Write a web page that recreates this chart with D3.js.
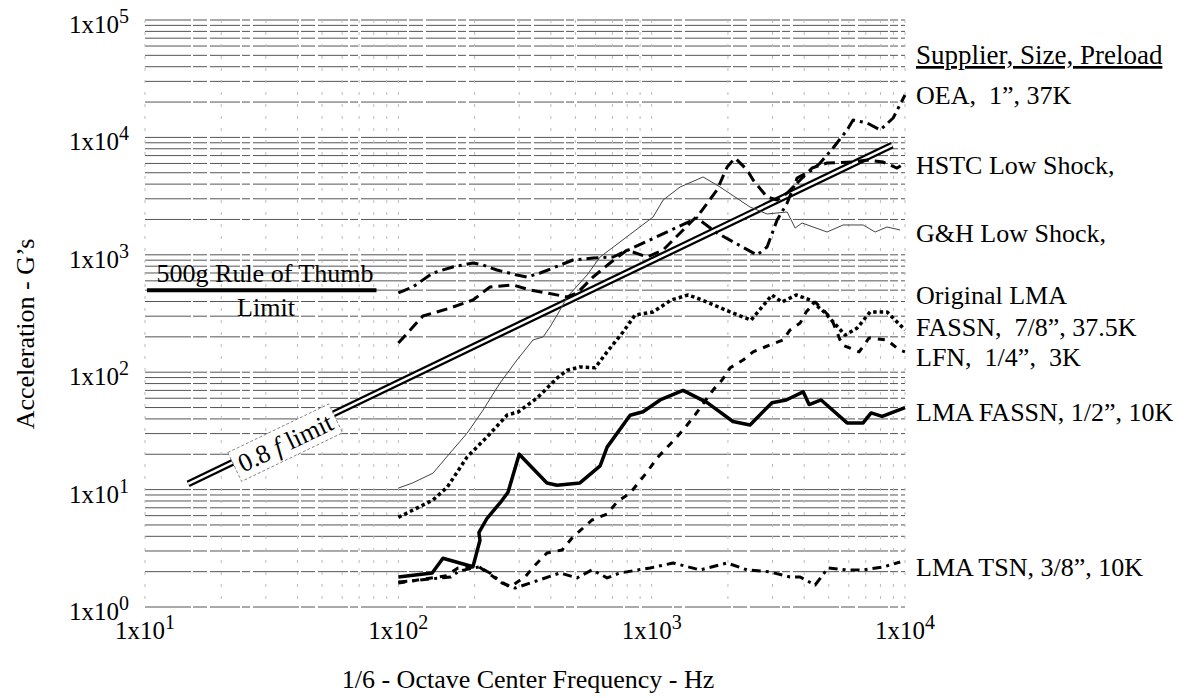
<!DOCTYPE html>
<html>
<head>
<meta charset="utf-8">
<script src="https://cdn.jsdelivr.net/npm/d3@7"></script>
<style>
	body { margin: 0; background: #fff; }
	svg text { font-family: "Liberation Serif", "Times New Roman", serif; fill: #000; }
</style>
</head>
<body>
<svg id="chart" width="1193" height="698"></svg>
<script>
// axis ticks (log decades)
const xTicks = [10, 100, 1000, 10000];
const xTickExp = ['1', '2', '3', '4'];
const yTicks = [1, 10, 100, 1000, 10000, 100000];
const yTickExp = ['0', '1', '2', '3', '4', '5'];

// series: [frequency Hz, acceleration G]
const oea = [[100,473],[114,532],[137,700],[164,787],[197,851],[216,819],[245,742],[294,673],[322,647],[363,700],[408,772],[489,903],[587,939],[705,958],[1510,2057],[1811,1534],[2606,996],[2855,1165],[3127,1978],[3427,2761],[3750,4510],[4298,5275],[4624,6050],[5202,8128],[5907,11560],[6237,14060],[7085,13270],[7980,11560],[8980,14630],[10000,22960]];
const hstc = [[100,177],[125,301],[160,352],[197,412],[230,532],[284,553],[331,501],[386,473],[464,437],[508,473],[587,647],[685,851],[800,1099],[959,958],[1110,1099],[1295,1534],[1552,2270],[1811,3565],[1986,5596],[2134,6677],[2382,5275],[2514,4335],[2855,3107],[3127,2929],[3427,3360],[3855,4335],[4298,5483],[4924,6050],[6237,6170],[7085,6418],[8202,6170],[9303,5483],[10000,6050]];
const ghLow = [[100,10.3],[114,11.4],[137,13.8],[160,20.5],[187,30.3],[216,47.6],[252,80.9],[294,127],[340,188],[373,200],[397,243],[435,339],[464,437],[556,673],[626,958],[1013,2099],[1110,2929],[1295,3782],[1596,4601],[1862,3782],[2445,2553],[2855,2227],[3427,2316],[3685,1691],[3924,1866],[4339,1725],[4924,1564],[5697,1795],[6834,1795],[7621,1564],[8494,1725],[9570,1626]];
const fassnOrig = [[100,5.8],[137,8.15],[156,10.5],[187,19],[224,28.1],[269,43.2],[297,45.8],[353,60.3],[424,89.3],[464,104],[521,111],[598,109],[667,149],[771,220],[860,307],[1013,326],[1194,412],[1393,455],[1582,412],[2040,326],[2468,278],[2985,455],[3270,396],[3717,455],[4220,412],[4795,326],[5806,207],[6475,238],[7285,326],[8494,326],[9303,268],[10000,229]];
const lfn = [[100,1.6],[155,1.85],[172,2.15],[208,2.2],[241,1.77],[276,1.48],[316,1.8],[347,2.28],[386,2.88],[443,3.06],[485,3.87],[536,4.71],[582,5.51],[667,6.2],[730,7.84],[822,9.35],[959,14.1],[1050,18.6],[1259,28.1],[1380,35.5],[1483,43.2],[1747,70.5],[1896,85.8],[2040,109],[2296,127],[2514,149],[2933,171],[3301,188],[3517,229],[3855,262],[4070,326],[4418,396],[5110,290],[5646,171],[6590,149],[7213,196],[8494,188],[9475,155],[10000,149]];
const lmaFassnHalf = [[100,1.8],[136,1.95],[150,2.6],[197,2.2],[210,3.7],[208,4.3],[224,5.7],[252,7.7],[271,9.5],[300,20],[386,11.4],[423,10.9],[521,11.4],[626,15.9],[667,23],[822,43],[925,46],[1080,58],[1330,70],[1656,55],[2094,38],[2445,35.5],[2985,55],[3396,58],[3963,68],[4183,53],[4666,58],[5907,37],[6834,37],[7349,45],[8124,42],[10000,50]];
const lmaTsn = [[100,1.63],[161,1.8],[174,2.03],[208,2.19],[230,1.95],[257,1.6],[289,1.45],[340,1.63],[435,1.95],[508,1.77],[582,2.07],[667,1.77],[750,1.95],[986,2.15],[1215,2.37],[1552,2.07],[1986,2.37],[2382,2.07],[2931,1.99],[3516,1.8],[3855,1.8],[4418,1.54],[4970,2.15],[5902,2.07],[6834,2.07],[8202,2.19],[9570,2.42]];

// 0.8 f limit line and 500 g rule of thumb
const limitLine = [[14.8,11.2],[8900,8600]];
const ruleLine = [[10,500],[82,500]];

const legendHeader = 'Supplier, Size, Preload';
const legendLabels = ['OEA,  1\u201D, 37K', 'HSTC Low Shock,', 'G&H Low Shock,', 'Original LMA', 'FASSN,  7/8\u201D, 37.5K', 'LFN,  1/4\u201D,  3K', 'LMA FASSN, 1/2\u201D, 10K', 'LMA TSN, 3/8\u201D, 10K'];

const svg = d3.select('#chart');
const x = d3.scaleLog().domain([10, 10000]).range([145, 905]);
const y = d3.scaleLog().domain([1, 100000]).range([607, 20]);

// --- grid ---
const grid = svg.append('g');
const hVals = [];
for (let e = 0; e < 5; e++) for (let m = 1; m < 10; m++) hVals.push(m * Math.pow(10, e));
hVals.push(100000);
grid.selectAll('line.h').data(hVals).enter().append('line')
	.attr('x1', x(10)).attr('x2', x(10000))
	.attr('y1', d => y(d)).attr('y2', d => y(d))
	.attr('stroke', '#555').attr('stroke-width', 1)
	.attr('stroke-dasharray', '46,2,14,3,30,2,8,3');

const vVals = [];
for (let e = 1; e < 4; e++) for (let m = 1; m < 10; m++) vVals.push(m * Math.pow(10, e));
vVals.push(10000);
grid.selectAll('line.v').data(vVals).enter().append('line')
	.attr('x1', d => x(d)).attr('x2', d => x(d))
	.attr('y1', y(100000)).attr('y2', y(1))
	.attr('stroke', '#bbb').attr('stroke-width', 1)
	.attr('stroke-dasharray', '3,9');

// --- tick labels ---
const xl = svg.append('g').selectAll('text').data(xTicks).enter().append('text')
	.attr('x', d => x(d)).attr('y', 639)
	.attr('text-anchor', 'middle').attr('font-size', 25)
	.text('1x10');
xl.append('tspan').attr('dy', -10).attr('font-size', 20).text((d, i) => xTickExp[i]);

const yl = svg.append('g').selectAll('text').data(yTicks).enter().append('text')
	.attr('x', 129).attr('y', d => y(d) + 13)
	.attr('text-anchor', 'end').attr('font-size', 25)
	.text('1x10');
yl.append('tspan').attr('dy', -10).attr('font-size', 20).text((d, i) => yTickExp[i]);

svg.append('text').attr('x', 528).attr('y', 688).attr('text-anchor', 'middle').attr('font-size', 26)
	.text('1/6 - Octave Center Frequency - Hz');
svg.append('text').attr('transform', 'translate(34,334) rotate(-90)').attr('text-anchor', 'middle').attr('font-size', 26)
	.text('Acceleration - G\u2019s');

// --- 500g rule of thumb ---
const ruleY = y(ruleLine[0][1]);
svg.append('line')
	.attr('x1', x(ruleLine[0][0]) + 2).attr('x2', x(ruleLine[1][0]))
	.attr('y1', ruleY).attr('y2', ruleY)
	.attr('stroke', '#000').attr('stroke-width', 4);
svg.append('text').attr('x', 265).attr('y', ruleY - 8).attr('text-anchor', 'middle').attr('font-size', 26)
	.text('500g Rule of Thumb');
svg.append('text').attr('x', 266).attr('y', ruleY + 26).attr('text-anchor', 'middle').attr('font-size', 26)
	.text('Limit');

// --- 0.8 f limit (double line) ---
const line = d3.line().x(d => x(d[0])).y(d => y(d[1]));
svg.append('path').attr('d', line(limitLine)).attr('fill', 'none').attr('stroke', '#000').attr('stroke-width', 7);
svg.append('path').attr('d', line(limitLine)).attr('fill', 'none').attr('stroke', '#fff').attr('stroke-width', 2.5);

const p0 = [x(limitLine[0][0]), y(limitLine[0][1])];
const p1 = [x(limitLine[1][0]), y(limitLine[1][1])];
const ang = Math.atan2(p1[1] - p0[1], p1[0] - p0[0]);
const t = (283 - p0[0]) / (p1[0] - p0[0]);
const cx = p0[0] + t * (p1[0] - p0[0]) - 5 * Math.sin(ang);
const cy = p0[1] + t * (p1[1] - p0[1]) + 5 * Math.cos(ang);
const lab = svg.append('g').attr('transform', `translate(${cx},${cy}) rotate(${ang * 180 / Math.PI})`);
lab.append('rect').attr('x', -56).attr('y', -16).attr('width', 112).attr('height', 32)
	.attr('fill', '#fff').attr('stroke', '#777').attr('stroke-width', 0.8).attr('stroke-dasharray', '3,2');
const lt = lab.append('text').attr('x', 0).attr('y', 9).attr('text-anchor', 'middle').attr('font-size', 26);
lt.append('tspan').text('0.8 ');
lt.append('tspan').attr('font-style', 'italic').text('f');
lt.append('tspan').text(' limit');

// --- series ---
const series = [
	{ data: ghLow, width: 1, dash: null, color: '#444' },
	{ data: oea, width: 3, dash: '12,5,3,5' },
	{ data: hstc, width: 3, dash: '11,6' },
	{ data: fassnOrig, width: 3.5, dash: '3.5,3' },
	{ data: lfn, width: 3, dash: '7,7' },
	{ data: lmaTsn, width: 3, dash: '9,5,3,5' },
	{ data: lmaFassnHalf, width: 3.5, dash: null }
];
series.forEach(s => {
	svg.append('path').attr('d', line(s.data))
		.attr('fill', 'none')
		.attr('stroke', s.color || '#000')
		.attr('stroke-width', s.width)
		.attr('stroke-linejoin', 'round')
		.attr('stroke-dasharray', s.dash);
});

// --- legend labels ---
const legX = 916;
svg.append('text').attr('x', legX).attr('y', 64).attr('font-size', 27)
	.attr('text-decoration', 'underline').style('white-space', 'pre').text(legendHeader);
const legY = [104, 174, 242, 304, 336, 366, 421, 576];
svg.append('g').selectAll('text').data(legendLabels).enter().append('text')
	.attr('x', legX).attr('y', (d, i) => legY[i])
	.attr('font-size', 26).style('white-space', 'pre')
	.text(d => d);
</script>
</body>
</html>
